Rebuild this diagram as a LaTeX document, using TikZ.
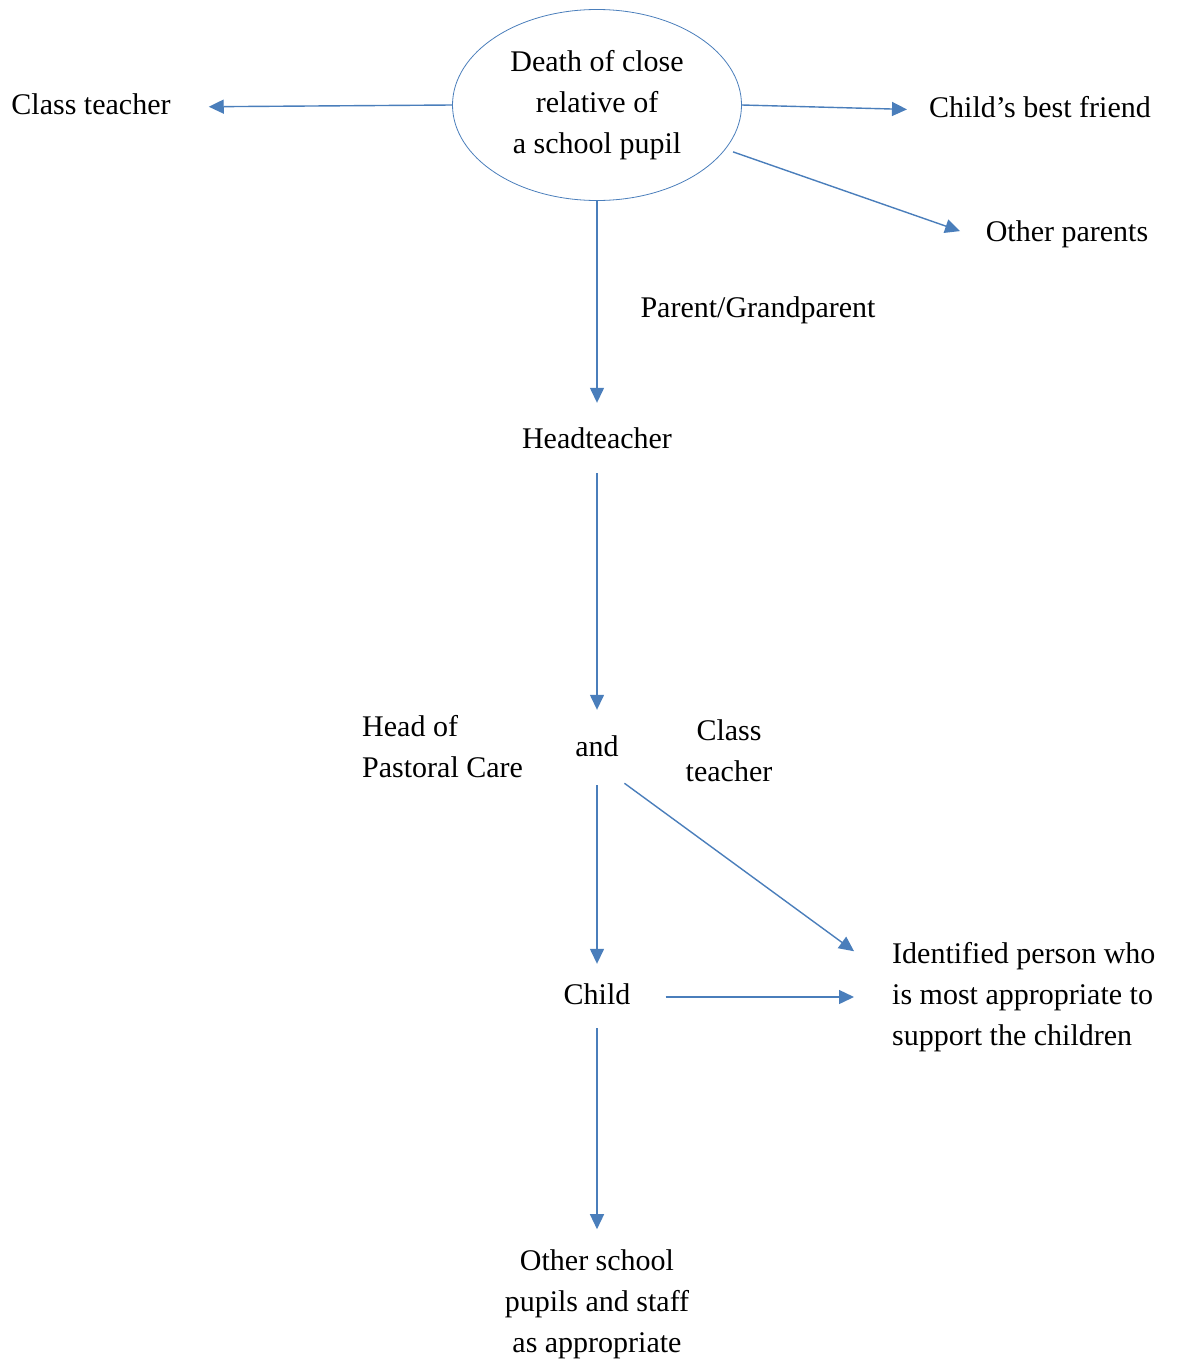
\documentclass[tikz,border=0pt]{standalone}
\usepackage{fontspec}
\setmainfont{Liberation Serif}
\usetikzlibrary{arrows.meta,shapes.geometric}
\definecolor{lineblue}{RGB}{74,126,187}

\begin{document}
\begin{tikzpicture}[x=1pt,y=-1pt,
    every node/.style={font=\fontsize{30}{41}\selectfont},
    txt/.style={inner sep=0pt,text height=21pt,text depth=7pt},
    lines/.style={inner sep=0pt,align=center},
    flow/.style={draw=lineblue,line width=1.4pt,-{Triangle[length=15pt,width=14pt]}}]
                    \useasboundingbox (0,0) rectangle (1176,1365);
                    
                    \node[draw=lineblue,line width=0.8pt,ellipse,minimum width=289pt,minimum height=191pt,lines] (death) at (597,105) {Death of close\\relative of\\a school pupil};
                    
                    \node[txt] (classT) at (91,107) {Class teacher};
                    \node[txt] (friend) at (1040,110) {Child’s best friend};
                    \node[txt] (parents) at (1067,234) {Other parents};
                    \node[txt] (grand) at (758,310) {Parent/Grandparent};
                    \node[txt] (head) at (597,441) {Headteacher};
                    \node[lines,align=left,anchor=west] (pastoral) at (362,747) {Head of\\Pastoral Care};
                    \node[txt] (and) at (597,749) {and};
                    \node[lines] (classT2) at (729,751) {Class\\teacher};
                    \node[txt] (child) at (597,997) {Child};
                    \node[lines,align=left,anchor=west] (person) at (892,997) {Identified person who\\is most appropriate to\\support the children};
                    \node[lines] (others) at (597,1304) {Other school\\pupils and staff\\as appropriate};
                    
                    \draw[flow,shorten >=38pt] (death.west) -- (classT.east);
                    \draw[flow,shorten >=22pt] (death.east) -- (friend.west);
                    \draw[flow,shorten <=8pt,shorten >=27pt] (death.-19) -- ([yshift=-6pt]parents.west);
                    \draw[flow,shorten >=24pt] (death.south) -- (head.north);
                    \draw[flow,shorten <=18pt,shorten >=25pt] (head.south) -- (and.north);
                    \draw[flow,shorten <=22pt,shorten >=19pt] (and.south) -- (child.north);
                    \draw[flow,shorten <=34pt,shorten >=47pt] (and.south) -- ([yshift=18pt]person.west);
                    \draw[flow,shorten <=35pt,shorten >=38pt] (child.east) -- (person.west);
                    \draw[flow,shorten <=17pt,shorten >=20pt] (child.south) -- (others.north);
                \end{tikzpicture}
\end{document}
